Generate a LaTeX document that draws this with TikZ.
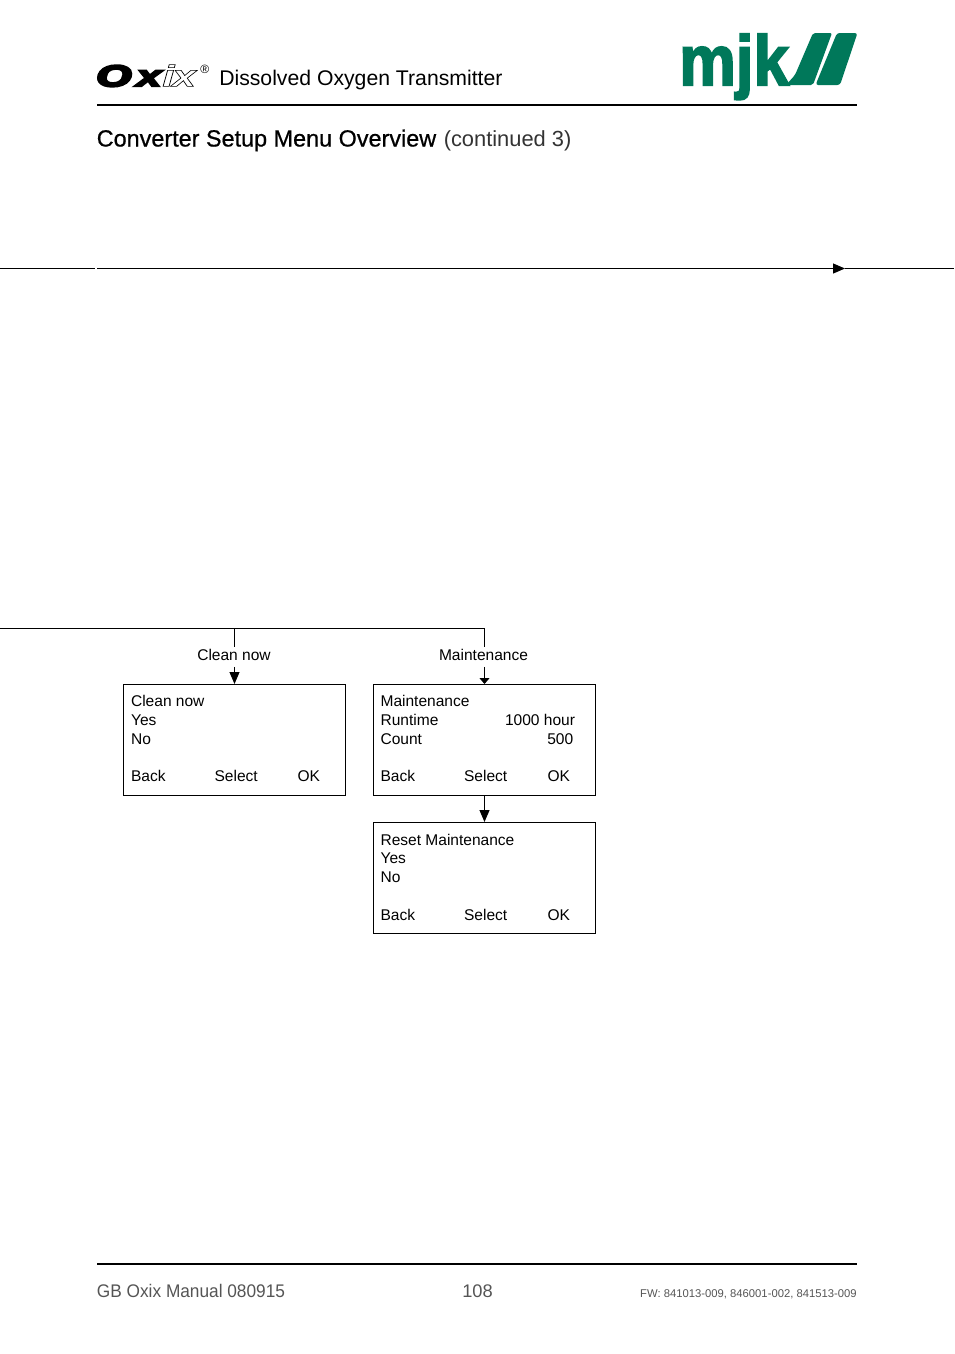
\documentclass[tikz,border=0pt]{standalone}
\usepackage{fontspec}
\setmainfont{Liberation Sans}
\usetikzlibrary{arrows.meta}
\definecolor{mjkgreen}{HTML}{00785A}
\definecolor{foot}{HTML}{555555}
\newcommand{\outlinetext}[1]{\special{pdf:code 1 Tr 0.4 w}#1\special{pdf:code 0 Tr}}
\newcommand{\heavytext}[2]{\special{pdf:code 2 Tr #1 w}#2\special{pdf:code 0 Tr}}
\tikzset{
  x=0.75pt,y=-0.75pt,
  txt/.style={anchor=base west,inner sep=0pt,font=\fontsize{11.65}{13}\selectfont},
  lbl/.style={anchor=base,inner sep=0pt,text height=13*0.75pt,text depth=6.7*0.75pt,font=\fontsize{11.65}{13}\selectfont},
  menubox/.style={draw=black,line width=0.75pt,minimum width=222*0.75pt,minimum height=111*0.75pt,inner sep=0pt},
  conn/.style={draw=black,line width=0.75pt},
  tipbig/.style={-{Triangle[length=9pt,width=7.5pt]}},
  tipsmall/.style={-{Triangle[length=4.5pt,width=7.5pt]}},
  heavy/.style={line width=1.5pt,draw=black},
  foottxt/.style={inner sep=0pt,text=foot},
  logotxt/.style={anchor=base west,inner sep=0pt,font=\fontsize{22.5}{24}\selectfont\bfseries\itshape}
}
\begin{document}
\begin{tikzpicture}
\useasboundingbox (0,0) rectangle (954,1354);
% header
\node[logotxt,xscale=1.5] (oxO) at (96,86.3) {\heavytext{1.6}{O}};
\node[logotxt,xscale=1.5] (oxx) at (136,86.3) {\heavytext{1.3}{x}};
\node[logotxt,xscale=1.45] (oxi) at (162,86.3) {\outlinetext{i}};
\node[logotxt,xscale=1.4] (oxx2) at (172,86.3) {\outlinetext{x}};
\node[anchor=base west,inner sep=0pt,font=\fontsize{9}{10}\selectfont] (reg) at (200,73.5) {®};
\node[anchor=base west,inner sep=0pt,font=\fontsize{15.9}{17}\selectfont] (head) at (219,85.5) {Dissolved Oxygen Transmitter};
\node[anchor=base west,inner sep=0pt,xscale=0.9,text=mjkgreen,font=\fontsize{53}{55}\selectfont\bfseries] (mjk) at (679,85) {\heavytext{1.5}{mjk}};
\fill[mjkgreen,rounded corners=1.5pt] (813,33) -- (832,33) -- (813,85) -- (786,85) -- (795,75) -- cycle;
\fill[mjkgreen,rounded corners=2pt] (837,33) -- (857.5,33) -- (840,85) -- (815.5,85) -- cycle;
\draw[heavy] (97,105) -- (857,105);
\node[anchor=base west,inner sep=0pt,font=\fontsize{17.55}{19}\selectfont\addfontfeatures{FakeBold=0.7}] (title) at (96.5,146.5) {Converter Setup Menu Overview};
\node[anchor=base west,inner sep=0pt,text=black!80,font=\fontsize{16.4}{19}\selectfont] (title2) at (443.5,146.5) {(continued 3)};
% long line
\coordinate (la) at (0,268.5); \coordinate (lb) at (94.5,268.5);
\coordinate (lc) at (97,268.5); \coordinate (ld) at (845,268.5); \coordinate (le) at (954,268.5);
\draw[conn] (la) -- (lb);
\draw[conn,-{Triangle[length=9pt,width=7.5pt]}] (lc) -- (ld);
\draw[conn] (ld) -- (le);
% tree
\coordinate (t0) at (0,628.5); \coordinate (t1) at (234.5,628.5); \coordinate (t2) at (484.5,628.5);
\draw[conn] (t0) -- (t2) -- ++(0,18);
\node[lbl] (lclean) at (234,660) {Clean now};
\node[lbl] (lmaint) at (483.5,660) {Maintenance};
\node[menubox] (bclean) at (234.5,740) {};
\node[menubox] (bmaint) at (484.5,740) {};
\node[menubox] (breset) at (484.5,878) {};
\draw[conn] (t1) -- (lclean.north -| t1);
\draw[conn,tipbig] (lclean.south -| bclean.north) -- (bclean.north);
\draw[conn,tipsmall] (lmaint.south -| bmaint.north) -- (bmaint.north);
\draw[conn,tipbig] (bmaint) ++(0,55.5) -- (breset.north);
% clean now box
\node[txt] (c1) at (130.8,706) {Clean now};
\node[txt] (c2) at (130.8,725) {Yes};
\node[txt] (c3) at (130.8,744) {No};
\node[txt] (c4) at (130.8,781) {Back};
\node[txt] (c5) at (214.3,781) {Select};
\node[txt] (c6) at (297.3,781) {OK};
% maintenance box
\node[txt] (m1) at (380.3,706) {Maintenance};
\node[txt] (m2) at (380.3,725) {Runtime};
\node[txt] (m3) at (380.3,744) {Count};
\node[txt] (m2b) at (504.8,725) {1000 hour};
\node[txt] (m3b) at (547,744) {500};
\node[txt] (m4) at (380.3,781) {Back};
\node[txt] (m5) at (463.8,781) {Select};
\node[txt] (m6) at (547.3,781) {OK};
% reset box
\node[txt] (r1) at (380.3,845) {Reset Maintenance};
\node[txt] (r2) at (380.3,863) {Yes};
\node[txt] (r3) at (380.3,882) {No};
\node[txt] (r4) at (380.3,920) {Back};
\node[txt] (r5) at (463.8,920) {Select};
\node[txt] (r6) at (547.3,920) {OK};
% footer
\draw[heavy] (97,1264) -- (857,1264);
\node[foottxt,anchor=base west,xscale=0.945,font=\fontsize{13.7}{15}\selectfont] (f1) at (96.7,1297) {GB Oxix Manual 080915};
\node[foottxt,anchor=base west,font=\fontsize{13.7}{15}\selectfont] (f2) at (462,1297) {108};
\node[foottxt,anchor=base east,font=\fontsize{8.45}{10}\selectfont] (f3) at (857,1297) {FW: 841013-009, 846001-002, 841513-009};
\end{tikzpicture}
\end{document}
